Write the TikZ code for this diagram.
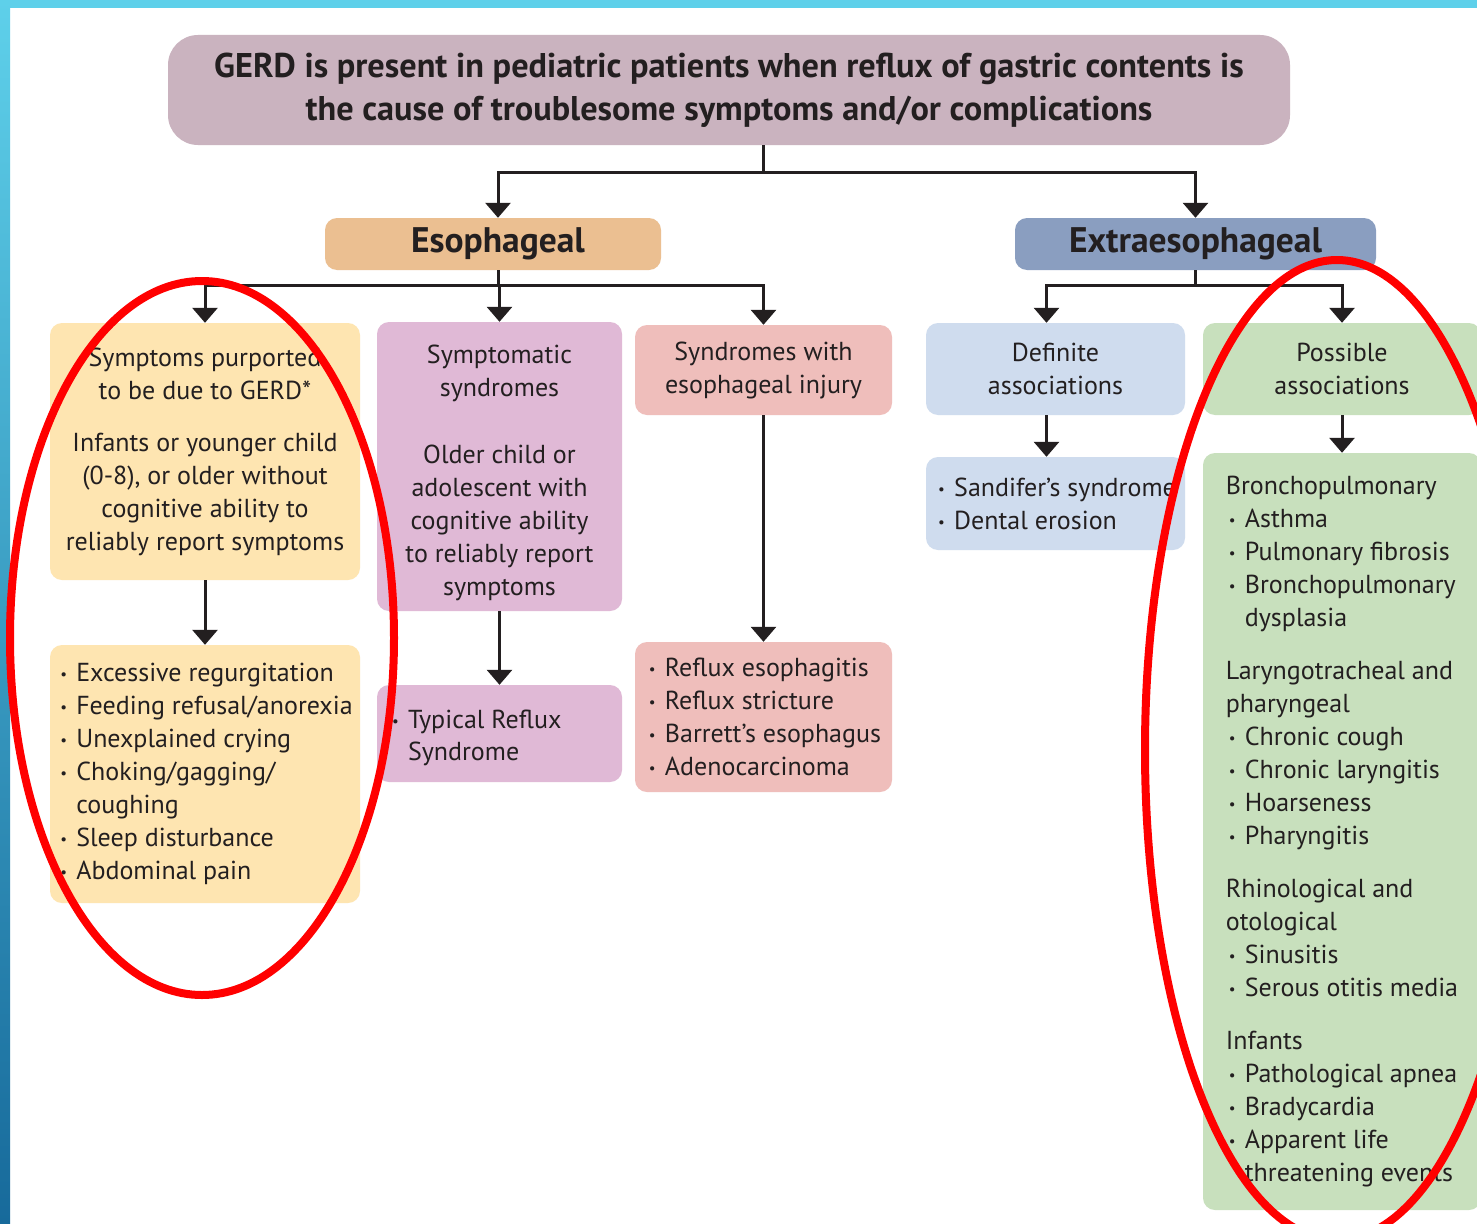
\documentclass[tikz,border=0pt]{standalone}
\usepackage{fontspec}
\setmainfont{PT Sans}
\usepackage{tikz}
\usetikzlibrary{arrows.meta,calc,positioning}

\definecolor{inkc}{HTML}{231F20}
\definecolor{titlec}{HTML}{CAB3BF}
\definecolor{esoc}{HTML}{EBBF91}
\definecolor{extrac}{HTML}{8A9EC0}
\definecolor{yellowc}{HTML}{FEE5B1}
\definecolor{purplec}{HTML}{E0B9D6}
\definecolor{pinkc}{HTML}{EFBEBB}
\definecolor{bluec}{HTML}{CFDCEE}
\definecolor{greenc}{HTML}{C8E0BD}
\definecolor{ringred}{HTML}{FF0000}
\definecolor{framelt}{HTML}{5ED0EA}
\definecolor{framedk}{HTML}{176A9B}

\newcommand{\bodyfont}{\fontsize{26}{33}\selectfont}
\newcommand{\headfont}{\bfseries\fontsize{35.5}{40}\selectfont}
\newcommand{\titlefont}{\bfseries\fontsize{34.3}{43}\selectfont}
\newcommand{\blt}{\makebox[19pt][l]{\hspace{3pt}\raisebox{2pt}{\fontsize{15}{15}\selectfont\textbullet}}}
\newcommand{\bind}{\hspace*{19pt}}

\tikzstyle{box}=[rounded corners=12pt, inner sep=0pt, text=inkc, font=\bodyfont, align=center]
\tikzstyle{arr}=[draw=inkc, line width=3pt, -{Triangle[width=25pt,length=15pt]}]
\tikzstyle{ring}=[draw=ringred, line width=8pt]

\begin{document}
\begin{tikzpicture}[x=1pt, y=-1pt]
  \useasboundingbox (0,0) rectangle (1477,1223);
  \fill[white] (0,0) rectangle (1477,1223);
  % frame strips
  \fill[framelt] (0,0) rectangle (1477,8);
  \shade[top color=framelt, bottom color=framedk] (0,0) rectangle (10,1223);

  % top level
  \node[box, fill=titlec, rounded corners=30pt, font=\titlefont,
    minimum width=1122pt, minimum height=110pt] (gerd) at (729,90)
    {GERD is present in pediatric patients when reflux of gastric contents is\\
     the cause of troublesome symptoms and/or complications};
  \node[box, fill=esoc, font=\headfont, minimum width=336pt, minimum height=52pt]
    (esoph) at (493,244) {\hspace*{10pt}Esophageal};
  \node[box, fill=extrac, font=\headfont, minimum width=361pt, minimum height=52pt]
    (extra) at (1195.5,244) {Extraesophageal};

  % esophageal column
  \node[box, fill=yellowc, minimum width=310pt, minimum height=257pt] (infsym) at (205,451.5)
    {Symptoms purported\\to be due to GERD*\\[19pt]Infants or younger child\\
     (0-8), or older without\\cognitive ability to\\reliably report symptoms};
  \node[box, fill=yellowc, align=left, minimum width=310pt, minimum height=258pt] (inflist) at (205,774)
    {\blt Excessive regurgitation\\\blt Feeding refusal/anorexia\\\blt Unexplained crying\\
     \blt Choking/gagging/\\\bind coughing\\\blt Sleep disturbance\\\blt Abdominal pain};
  \node[box, fill=purplec, minimum width=245pt, minimum height=289pt] (oldsym) at (499.5,466.5)
    {\mbox{}\\[-2pt]Symptomatic\\syndromes\\[34pt]Older child or\\adolescent with\\cognitive ability\\
     to reliably report\\symptoms};
  \node[box, fill=purplec, align=left, minimum width=245pt, minimum height=97pt] (oldlist) at (499.5,733.5)
    {\mbox{}\\[-6pt]\makebox[221pt][l]{\blt Typical Reflux}\\[-1pt]\bind Syndrome};
  \node[box, fill=pinkc, minimum width=257pt, minimum height=90pt] (injsym) at (763.5,370)
    {Syndromes with\\esophageal injury};
  \node[box, fill=pinkc, align=left, minimum width=257pt, minimum height=150pt] (injlist) at (763.5,717)
    {\blt Reflux esophagitis\\\blt Reflux stricture\\\blt Barrett’s esophagus\\\blt Adenocarcinoma};

  % extraesophageal column
  \node[box, fill=bluec, minimum width=259pt, minimum height=92pt] (defas) at (1055.5,369)
    {Definite\\associations};
  \node[box, fill=bluec, align=left, minimum width=259pt, minimum height=93pt] (deflist) at (1055.5,503.5)
    {\blt Sandifer’s syndrome\\\blt Dental erosion};
  \node[box, fill=greenc, minimum width=278pt, minimum height=92pt] (posas) at (1342,369)
    {Possible\\associations};
  \node[box, fill=greenc, align=left, minimum width=278pt, minimum height=757pt] (poslist) at (1342,831.5)
    {Bronchopulmonary\\\blt Asthma\\\blt Pulmonary fibrosis\\\blt Bronchopulmonary\\\bind dysplasia\\[20pt]
     Laryngotracheal and\\pharyngeal\\\blt Chronic cough\\\blt Chronic laryngitis\\\blt Hoarseness\\
     \blt Pharyngitis\\[20pt]
     Rhinological and\\otological\\\blt Sinusitis\\\blt Serous otitis media\\[20pt]
     Infants\\\blt Pathological apnea\\\blt Bradycardia\\\blt Apparent life\\\bind threatening events};

  % connectors
  \draw[arr] ([xshift=34pt]gerd.south) -- ++(0,27) -| ([xshift=5pt]esoph.north);
  \draw[arr] ([xshift=34pt]gerd.south) -- ++(0,27) -| (extra.north);
  \draw[arr] ([xshift=5pt]esoph.south) -- ++(0,15) -| (infsym.north);
  \draw[arr] ([xshift=5pt]esoph.south) -- ++(0,15) -| (oldsym.north);
  \draw[arr] ([xshift=5pt]esoph.south) -- ++(0,15) -| (injsym.north);
  \draw[arr] (extra.south) -- ++(0,15) -| ([xshift=-9pt]defas.north);
  \draw[arr] (extra.south) -- ++(0,15) -| (posas.north);
  \draw[arr] (infsym.south) -- (inflist.north);
  \draw[arr] (oldsym.south) -- (oldlist.north);
  \draw[arr] (injsym.south) -- (injlist.north);
  \draw[arr] ([xshift=-9pt]defas.south) -- ([xshift=-9pt]deflist.north);
  \draw[arr] (posas.south) -- (poslist.north);

  % red marks
  \draw[ring] (202,638) ellipse [x radius=192pt, y radius=357pt];
  \draw[ring] (1337,750) ellipse [x radius=192pt, y radius=490pt];
\end{tikzpicture}
\end{document}
